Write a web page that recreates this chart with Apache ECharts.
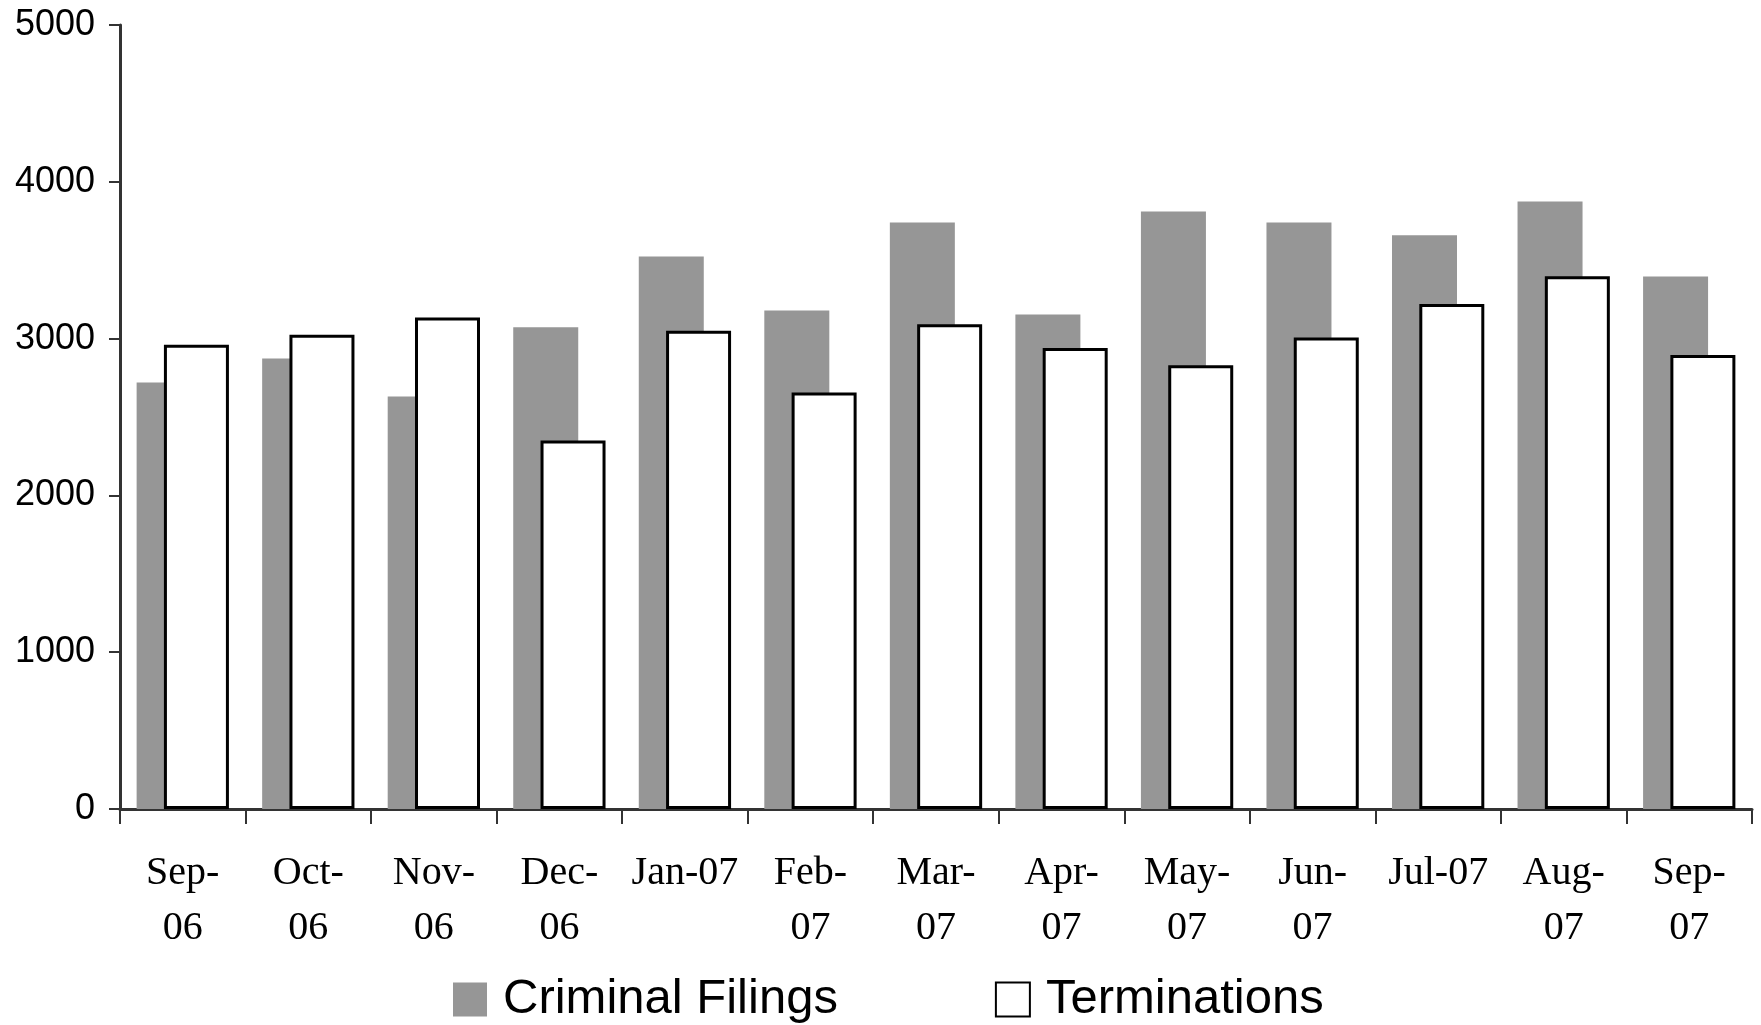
<!DOCTYPE html>
<html>
<head>
<meta charset="utf-8">
<script src="https://cdn.jsdelivr.net/npm/echarts@6/dist/echarts.min.js"></script>
<style>
  html, body { margin: 0; padding: 0; background: #fff; }
  #main { width: 1761px; height: 1025px; }
</style>
</head>
<body>
<div id="main"></div>
<script>
var months = ['Sep-\n06', 'Oct-\n06', 'Nov-\n06', 'Dec-\n06', 'Jan-07', 'Feb-\n07', 'Mar-\n07',
    'Apr-\n07', 'May-\n07', 'Jun-\n07', 'Jul-07', 'Aug-\n07', 'Sep-\n07'];
var filings = [2720, 2873, 2631, 3072, 3524, 3180, 3740, 3153, 3811, 3740, 3659, 3875, 3396];
var terminations = [2960, 3025, 3135, 2350, 3050, 2656, 3092, 2940, 2830, 3007, 3220, 3398, 2896];
var yTicks = [0, 1000, 2000, 3000, 4000, 5000];

var axisColor = '#333333';

var option = {
    animation: false,
    backgroundColor: '#ffffff',
    grid: { left: 120, right: 9, top: 25, bottom: 216, containLabel: false },
    legend: {
        top: 970,
        left: 448,
        itemWidth: 34,
        itemHeight: 34,
        itemGap: 157,
        icon: 'rect',
        textStyle: { fontFamily: 'Liberation Sans', fontSize: 49, color: '#000', padding: [0, 0, 0, 11] },
        data: [
            { name: 'Criminal Filings', itemStyle: { color: '#969696', borderWidth: 0 } },
            { name: 'Terminations', itemStyle: { color: '#ffffff', borderColor: '#000', borderWidth: 2 } }
        ]
    },
    xAxis: {
        type: 'category',
        data: months,
        boundaryGap: true,
        axisLine: { lineStyle: { color: axisColor, width: 3 } },
        axisTick: { show: true, length: 15, lineStyle: { color: axisColor, width: 2 } },
        axisLabel: {
            interval: 0,
            margin: 37,
            fontFamily: 'Liberation Serif',
            fontSize: 40,
            lineHeight: 55,
            color: '#000'
        }
    },
    yAxis: {
        type: 'value',
        min: yTicks[0],
        max: yTicks[yTicks.length - 1],
        interval: 1000,
        splitLine: { show: false },
        axisLine: { show: true, lineStyle: { color: axisColor, width: 3 } },
        axisTick: { show: true, length: 11, lineStyle: { color: axisColor, width: 2 } },
        axisLabel: {
            margin: 25,
            fontFamily: 'Liberation Sans',
            fontSize: 36,
            color: '#000',
            formatter: function (v) { return String(v); }
        }
    },
    series: [
        {
            name: 'Criminal Filings',
            type: 'bar',
            data: filings,
            barWidth: 65,
            barGap: '-58%',
            itemStyle: { color: '#969696' }
        },
        {
            name: 'Terminations',
            type: 'bar',
            data: terminations,
            barWidth: 65,
            itemStyle: { color: '#ffffff', borderColor: '#000', borderWidth: 3 }
        }
    ]
};

var myChart = echarts.init(document.getElementById('main'));
myChart.setOption(option);
</script>
</body>
</html>
